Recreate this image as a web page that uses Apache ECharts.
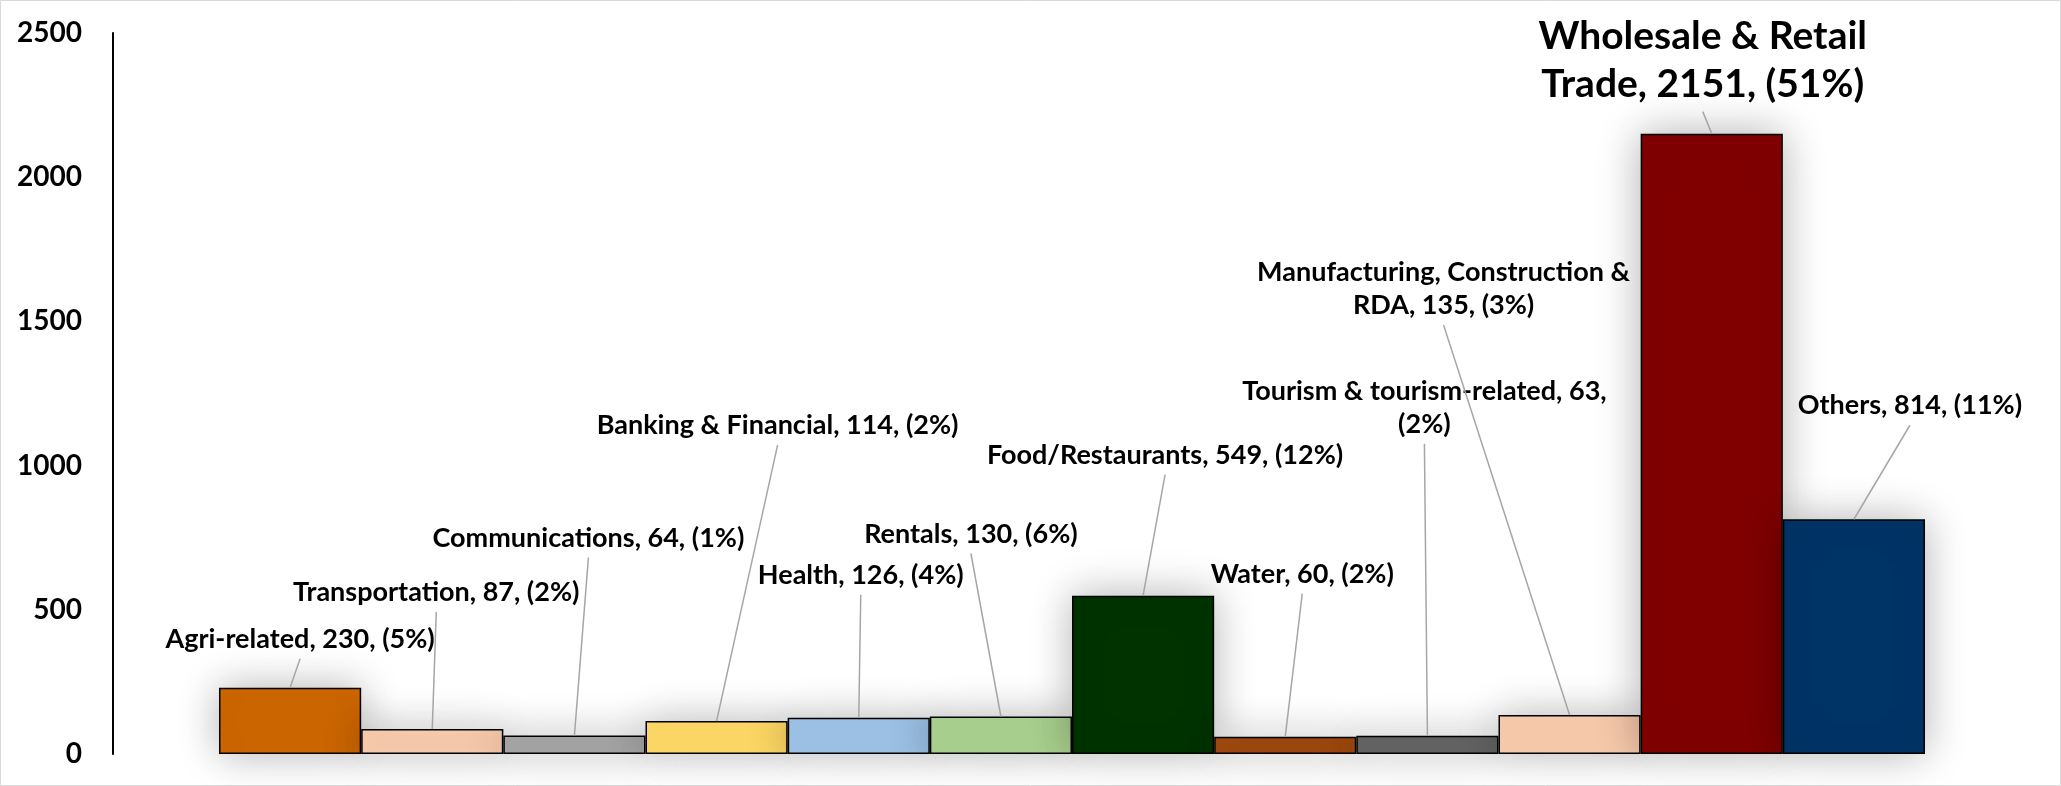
<!DOCTYPE html>
<html>
<head>
<meta charset="utf-8">
<script src="https://cdn.jsdelivr.net/npm/echarts@6/dist/echarts.min.js"></script>
<style>
  html, body { margin: 0; padding: 0; background: #ffffff; }
  #chart { width: 2061px; height: 786px; }
</style>
</head>
<body>
<div id="chart"></div>
<script>
// ---- data ----
const categories = [
  'Agri-related', 'Transportation', 'Communications', 'Banking & Financial',
  'Health', 'Rentals', 'Food/Restaurants', 'Water',
  'Tourism & tourism-related', 'Manufacturing, Construction & RDA',
  'Wholesale & Retail Trade', 'Others'
];
const values = [230, 87, 64, 114, 126, 130, 549, 60, 63, 135, 2151, 814];
const percents = [5, 2, 1, 2, 4, 6, 12, 2, 2, 3, 51, 11];
const yTickMin = 0, yTickMax = 2500, yTickStep = 500;

// ---- styling / label layout (not data) ----
const barColors = ['#CC6600', '#F8CBAD', '#A5A5A5', '#FFD966', '#9DC3E6', '#A9D18E',
                   '#003300', '#9E480E', '#646464', '#F8CBAD', '#800000', '#003366'];
// leader-line start offset from bar top centre (px), optional line break, font size
const labelLayout = [
  { dx: 10,   dy: -29 },
  { dx: 4,    dy: -117 },
  { dx: 14,   dy: -178 },
  { dx: 61,   dy: -276 },
  { dx: 2,    dy: -123 },
  { dx: -30,  dy: -163 },
  { dx: 22,   dy: -121 },
  { dx: 17,   dy: -143 },
  { dx: -3,   dy: -292, br: '(2%)' },
  { dx: -126, dy: -390, br: 'RDA' },
  { dx: -9,   dy: -22,  br: 'Trade', big: true },
  { dx: 56,   dy: -94 }
];
const FONT = "Lato, 'Liberation Sans Narrow', sans-serif";
const LABEL_SIZE = 27, BIG_SIZE = 39, AXIS_SIZE = 28;

function labelText(i) {
  let t = categories[i] + ', ' + values[i] + ', (' + percents[i] + '%)';
  const br = labelLayout[i].br;
  if (br) {
    const k = t.lastIndexOf(' ' + br);
    t = t.slice(0, k) + '\n' + t.slice(k + 1);
  }
  return t;
}

const chart = echarts.init(document.getElementById('chart'), null, { renderer: 'canvas' });

const option = {
  backgroundColor: '#ffffff',
  animation: false,
  grid: { left: 219, right: 136, top: 33, bottom: 32, containLabel: false },
  xAxis: {
    type: 'category',
    data: categories,
    axisLine: { show: false },
    axisTick: { show: false },
    axisLabel: { show: false },
    splitLine: { show: false }
  },
  yAxis: {
    type: 'value',
    min: yTickMin, max: yTickMax, interval: yTickStep,
    offset: 106,
    axisLine: { show: true, lineStyle: { color: '#000000', width: 2 } },
    axisTick: { show: false },
    splitLine: { show: false },
    axisLabel: {
      margin: 31,
      color: '#000000',
      fontFamily: FONT,
      fontWeight: 'bold',
      fontSize: AXIS_SIZE,
      formatter: function (v) { return String(v); }
    }
  },
  graphic: [{
    type: 'rect', silent: true, z: -10,
    shape: { x: 0.5, y: 0.5, width: 2060, height: 785 },
    style: { fill: 'none', stroke: '#d9d9d9', lineWidth: 1 }
  }],
  series: [
    {
      type: 'bar',
      barCategoryGap: '0%',
      barWidth: '100%',
      data: values.map((v, i) => ({
        value: v,
        itemStyle: { color: barColors[i] }
      })),
      itemStyle: {
        borderColor: '#000000',
        borderWidth: 1.5,
        shadowBlur: 40,
        shadowColor: 'rgba(0,0,0,0.3)',
        shadowOffsetX: 0,
        shadowOffsetY: 0
      },
      z: 2
    },
    {
      type: 'custom',
      z: 5,
      silent: true,
      data: values.map((v, i) => [i, v]),
      renderItem: function (params, api) {
        const i = params.dataIndex;
        const top = api.coord([api.value(0), api.value(1)]);
        const L = labelLayout[i];
        const sx = top[0] + L.dx, sy = top[1] + L.dy;
        const size = L.big ? BIG_SIZE : LABEL_SIZE;
        return {
          type: 'group',
          children: [
            {
              type: 'line',
              shape: { x1: sx, y1: sy, x2: top[0], y2: top[1] },
              style: { stroke: '#a6a6a6', lineWidth: 1.5 }
            },
            {
              type: 'text',
              x: sx, y: sy - 3,
              style: {
                text: labelText(i),
                fill: '#000000',
                font: 'bold ' + size + 'px ' + FONT,
                lineHeight: Math.round(size * 1.24),
                align: 'center',
                verticalAlign: 'bottom'
              }
            }
          ]
        };
      }
    }
  ]
};
chart.setOption(option);
</script>
</body>
</html>
